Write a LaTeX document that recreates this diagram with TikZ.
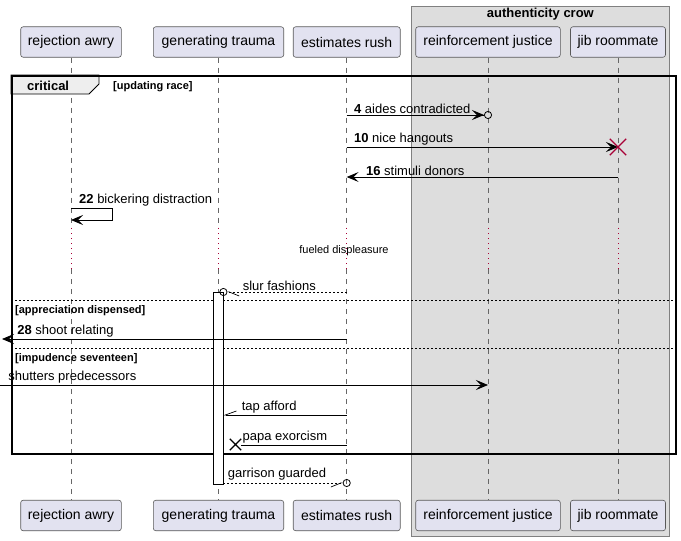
\documentclass[tikz,border=0pt]{standalone}
\usepackage{fontspec}
\setmainfont{Liberation Sans}
\usetikzlibrary{arrows.meta, positioning, shapes.misc, calc}

\definecolor{partfill}{HTML}{E2E2F0}
\definecolor{grpfill}{HTML}{DDDDDD}
\definecolor{tabfill}{HTML}{EEEEEE}
\definecolor{dlyred}{HTML}{A80036}

\tikzset{
  %% Participant box
  part/.style={
    rectangle, rounded corners=2.5pt,
    draw=black!65, fill=partfill,
    minimum height=30.5pt, inner sep=0pt,
    font=\fontsize{14}{16}\selectfont, line width=0.6pt
  },
  %% Lifeline and delay
  life/.style={draw=black!60, dash pattern=on 5pt off 5pt, line width=0.6pt},
  dly/.style={draw=dlyred, dash pattern=on 1.2pt off 3.8pt, line width=0.9pt},
  %% Messages
  msg/.style={-{Stealth[length=12pt,width=10pt,inset=5pt]},
              draw=black, line width=0.8pt},
  ret/.style={draw=black, line width=0.8pt, dash pattern=on 2pt off 2pt},
  lbl/.style={font=\fontsize{13}{15}\selectfont, inner sep=1pt},
  glbl/.style={font=\fontsize{11}{13}\selectfont\bfseries, inner sep=0pt},
  sepline/.style={draw=black, dash pattern=on 2pt off 2pt, line width=0.8pt},
  %% Destroy mark
  xmark/.style={cross out, draw=#1, inner sep=0pt, line width=1.4pt},
  xmark/.default=black,
  actbar/.style={rectangle, draw=black, fill=white, line width=0.8pt,
                 inner sep=0pt, minimum width=10pt},
}

\begin{document}
\begin{tikzpicture}[x=1pt, y=-1pt]
  \useasboundingbox (0,0) rectangle (681,541);

  %% Box group
  \node[rectangle, draw=black!50, fill=grpfill, line width=0.8pt,
        minimum width=258pt, minimum height=530pt, inner sep=0pt,
        anchor=north west] (crow) at (411,6) {};
  \node[font=\fontsize{13}{15}\selectfont\bfseries, anchor=north,
        inner sep=0pt, yshift=-2pt] (crowlbl) at (crow.north) {authenticity crow};

  %% Participants
  \node[part, minimum width=100.6pt] (ra) at (71,42)    {rejection awry};
  \node[part, minimum width=130.4pt] (gt) at (218.5,42) {generating trauma};
  \node[part, minimum width=107pt]   (er) at (346.7,42) {estimates rush};
  \node[part, minimum width=144.6pt] (rj) at (488,42)   {reinforcement justice};
  \node[part, minimum width=95pt]    (jr) at (618,42)   {jib roommate};

  \node[part, minimum width=100.6pt] (ra2) at (71,515.5)    {rejection awry};
  \node[part, minimum width=130.4pt] (gt2) at (218.5,515.5) {generating trauma};
  \node[part, minimum width=107pt]   (er2) at (346.7,515.5) {estimates rush};
  \node[part, minimum width=144.6pt] (rj2) at (488,515.5)   {reinforcement justice};
  \node[part, minimum width=95pt]    (jr2) at (618,515.5)   {jib roommate};

  %% Message rows
  \coordinate (dly1) at (0,228);
  \coordinate (dly2) at (0,269);
  \coordinate (lft)  at (2,0);
  \coordinate (lft0) at (0,0);
  \coordinate (y4)   at (0,115);
  \coordinate (y10)  at (0,147);
  \coordinate (y16)  at (0,177);
  \coordinate (y22)  at (0,208);
  \coordinate (ysl)  at (0,292);
  \coordinate (yop1) at (0,300);
  \coordinate (y28)  at (0,339);
  \coordinate (yop2) at (0,348);
  \coordinate (ysh)  at (0,385);
  \coordinate (ytap) at (0,415);
  \coordinate (ypap) at (0,445);
  \coordinate (ygar) at (0,483);

  %% Lifelines
  \foreach \p/\q in {ra/ra2, gt/gt2, er/er2, rj/rj2, jr/jr2} {
    \draw[life] (\p) -- (\p |- dly1);
    \draw[dly]  (\p |- dly1) -- (\p |- dly2);
    \draw[life] (\p |- dly2) -- (\q);
  }
  \node[font=\fontsize{11}{13}\selectfont, inner sep=0pt] (fuel) at (344,250.5)
    {fueled displeasure};

  %% Critical frame
  \coordinate (critnw) at (11,75);
  \draw[fill=tabfill, draw=black, line width=0.8pt]
    (critnw) -- ++(88,0) -- ++(0,9) -- ++(-10,10) -- ++(-78,0) -- cycle;
  \node[rectangle, draw=black, line width=1.5pt, inner sep=0pt,
        minimum width=664pt, minimum height=378pt,
        anchor=north west] (crit) at (critnw) {};
  \node[font=\fontsize{13}{15}\selectfont\bfseries, inner sep=0pt,
        anchor=base west] (critlbl) at (27,90) {critical};
  \node[glbl, anchor=base west] (g1) at (113,89) {[updating race]};

  \draw[sepline] (crit.west |- yop1) -- (crit.east |- yop1);
  \node[glbl, anchor=base west] (g2) at (15,313) {[appreciation dispensed]};
  \draw[sepline] (crit.west |- yop2) -- (crit.east |- yop2);
  \node[glbl, anchor=base west] (g3) at (15,361) {[impudence seventeen]};

  %% Activation
  \node[actbar, minimum height=192pt, anchor=north] (act) at (218,292) {};

  %% Messages
  \draw[msg, -{Stealth[length=12pt,width=10pt,inset=5pt] Circle[open,length=8pt,width=8pt]},
        shorten >=-4pt] (er |- y4) --
    node[lbl, pos=0, anchor=south west, xshift=6pt] (t4) {\textbf{4} aides contradicted}
    (rj |- y4);

  \draw[msg] (er |- y10) --
    node[lbl, pos=0, anchor=south west, xshift=6pt] (t10) {\textbf{10} nice hangouts}
    (jr |- y10);
  \node[xmark=dlyred, minimum size=15pt] (kill1) at (jr |- y10) {};

  \draw[msg] (jr |- y16) --
    node[lbl, pos=1, anchor=south west, xshift=18pt] (t16) {\textbf{16} stimuli donors}
    (er |- y16);

  \draw[msg] (ra |- y22) -- ++(41,0) |- ++(-41,12);
  \node[lbl, anchor=base west] (t22) at (78,203) {\textbf{22} bickering distraction};

  \draw[ret, -{Straight Barb[harpoon,length=10pt,width=8pt,line width=0.7pt]
               Circle[open,length=8pt,width=8pt,line width=0.8pt]},
        shorten >=-4pt] (er |- ysl) --
    node[lbl, pos=1, anchor=south west, xshift=18pt] (tsl) {slur fashions}
    (act.north east);

  \draw[msg] (er |- y28) --
    node[lbl, pos=1, anchor=south west, xshift=14pt] (t28) {\textbf{28} shoot relating}
    (lft |- y28);

  \draw[msg] (lft0 |- ysh) --
    node[lbl, pos=0, anchor=south west, xshift=7pt] (tsh) {shutters predecessors}
    (rj |- ysh);

  \draw[msg, -{Straight Barb[harpoon,swap,length=11pt,width=8pt,line width=0.7pt]}]
    (er |- ytap) --
    node[lbl, pos=1, anchor=south west, xshift=17pt] (ttap) {tap afford}
    (act.east |- ytap);

  \node[xmark, minimum size=10pt] (kill2) at (235.5,444.5) {};
  \draw[msg, -] (er |- ypap) --
    node[lbl, pos=1, anchor=south west, xshift=0pt] (tpap) {papa exorcism}
    (kill2.east |- ypap);

  \draw[ret, -{Straight Barb[harpoon,swap,length=10pt,width=8pt,line width=0.7pt]
               Circle[open,length=8pt,width=8pt,line width=0.8pt]},
        shorten >=-4pt] (act.east |- ygar) --
    node[lbl, pos=0, anchor=south west, xshift=3pt, yshift=1pt] (tgar) {garrison guarded}
    (er |- ygar);
\end{tikzpicture}
\end{document}
